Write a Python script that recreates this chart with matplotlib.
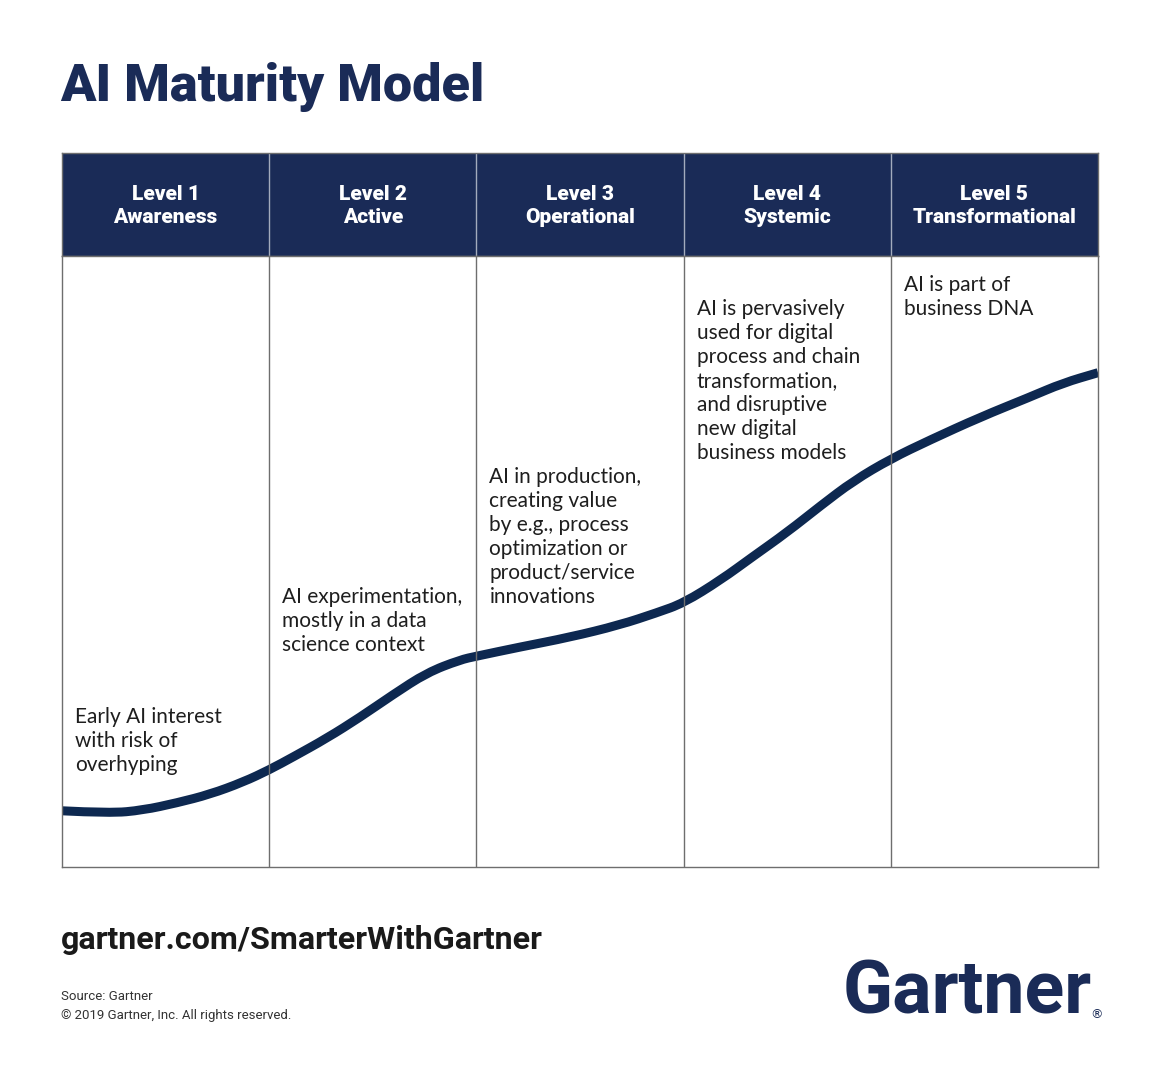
import matplotlib
matplotlib.use("Agg")
import matplotlib.pyplot as plt
from matplotlib.path import Path
from matplotlib.patches import PathPatch

# --- data ---
levels = ["Level 1", "Level 2", "Level 3", "Level 4", "Level 5"]
stages = ["Awareness", "Active", "Operational", "Systemic", "Transformational"]
descriptions = [
    ["Early AI interest", "with risk of", "overhyping"],
    ["AI experimentation,", "mostly in a data", "science context"],
    ["AI in production,", "creating value", "by e.g., process", "optimization or",
     "product/service", "innovations"],
    ["AI is pervasively", "used for digital", "process and chain", "transformation,",
     "and disruptive", "new digital", "business models"],
    ["AI is part of", "business DNA"],
]
# where each description's first line sits (pixels from top of the image)
desc_top = [717, 597, 477, 309, 285]

# maturity curve: x in level units (0..5), y in % of column height
curve_x = [0.0, 0.23, 0.39, 0.555, 0.714, 0.874, 1.0, 1.115, 1.279, 1.438, 1.597,
           1.761, 1.921, 2.0, 2.21, 2.45, 2.69, 2.87, 3.0, 3.18, 3.33, 3.50, 3.66,
           3.82, 4.0, 4.19, 4.43, 4.67, 4.83, 5.0]
curve_y = [9.2, 8.8, 9.3, 10.5, 11.9, 13.9, 15.9, 18.0, 21.1, 24.5, 28.2, 31.8,
           33.9, 34.5, 36.0, 37.6, 39.6, 41.6, 43.2, 47.0, 50.7, 54.8, 59.1, 63.2,
           66.8, 69.9, 73.6, 76.9, 79.2, 80.9]

W, H = 1156, 1080
NAVY = "#1a2b57"
LINE = "#0d2850"
GRID = "#6e6e6e"

fig = plt.figure(figsize=(W / 100, H / 100), dpi=100)
fig.patch.set_facecolor("white")


def px(x, y):
    return x / W, 1 - y / H


# table geometry in pixels
left, right, top, head_bot, bottom = 62, 1098, 153, 256, 867

# header row
axh = fig.add_axes([left / W, 1 - head_bot / H, (right - left) / W, (head_bot - top) / H])
axh.set_xlim(0, 5)
axh.set_ylim(0, 1)
axh.set_facecolor(NAVY)
for i in range(1, 5):
    axh.axvline(i, color="#a3abbd", lw=1)
for i, (lv, st) in enumerate(zip(levels, stages)):
    axh.text(i + 0.5, 0.60, lv, color="white", ha="center", va="center",
             fontsize=15, fontweight=900, family="Roboto")
    axh.text(i + 0.5, 0.37, st, color="white", ha="center", va="center",
             fontsize=15, fontweight=900, family="Roboto")
axh.set_xticks([])
axh.set_yticks([])
for s in axh.spines.values():
    s.set_color(GRID)
    s.set_linewidth(1)

# body
ax = fig.add_axes([left / W, 1 - bottom / H, (right - left) / W, (bottom - head_bot) / H])
ax.set_xlim(0, 5)
ax.set_ylim(0, 100)
for i in range(1, 5):
    ax.axvline(i, color=GRID, lw=1)

# smooth the read points with quadratic segments through their midpoints
pts = list(zip(curve_x, curve_y))
verts = [pts[0]]
codes = [Path.MOVETO]
for k in range(1, len(pts) - 1):
    mid = ((pts[k][0] + pts[k + 1][0]) / 2, (pts[k][1] + pts[k + 1][1]) / 2)
    verts += [pts[k], mid]
    codes += [Path.CURVE3, Path.CURVE3]
verts.append(pts[-1])
codes.append(Path.LINETO)
ax.add_patch(PathPatch(Path(verts, codes), facecolor="none", edgecolor=LINE,
                       lw=6.5, capstyle="butt", joinstyle="round"))
ax.set_xticks([])
ax.set_yticks([])
for s in ax.spines.values():
    s.set_color(GRID)
    s.set_linewidth(1)

# descriptions
for i, lines in enumerate(descriptions):
    x0 = left + i * (right - left) / 5 + 13
    for k, t in enumerate(lines):
        fig.text(*px(x0, desc_top[i] + 24 * k), t, ha="left", va="center",
                 fontsize=15, color="#1e1e1e", family="Lato")

# title and footer
fig.text(*px(60, 87), "AI Maturity Model", ha="left", va="center", fontsize=37.5,
         fontweight=900, color=NAVY, family="Roboto")
fig.text(*px(61, 940), "gartner.com/SmarterWithGartner", ha="left", va="center",
         fontsize=23.2, fontweight="bold", color="#1a1a1a", family="Roboto")
fig.text(*px(61, 996), "Source: Gartner", ha="left", va="center", fontsize=9.5,
         color="#333333", family="Roboto")
fig.text(*px(61, 1016), "\u00a9 2019 Gartner, Inc. All rights reserved.", ha="left",
         va="center", fontsize=9.5, color="#333333", family="Roboto")
fig.text(*px(1092, 994), "Gartner", ha="right", va="center", fontsize=53,
         fontweight="bold", color=NAVY, family="Roboto")
fig.text(*px(1096, 1015), "\u00ae", ha="center", va="center", fontsize=9,
         color=NAVY, family="DejaVu Sans")

fig.savefig("out.png", dpi=100, facecolor="white")
